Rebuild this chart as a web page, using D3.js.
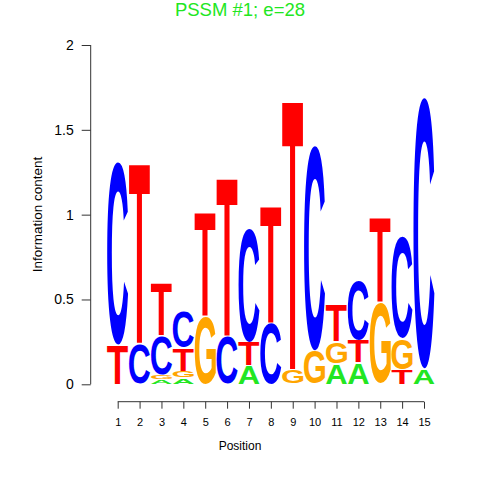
<!DOCTYPE html>
<html><head><meta charset="utf-8">
<script src="https://cdn.jsdelivr.net/npm/d3@7"></script>
<style>body{margin:0;background:#fff}</style>
</head><body>
<svg id="chart" width="480" height="480"></svg>
<script>
// Data: per-position letter heights (bits), bottom to top
const positions = [1,2,3,4,5,6,7,8,9,10,11,12,13,14,15];
const letters = ["A","C","G","T"];
const heightsA = [0,    0,    0.025,0.035,0,    0,    0.11, 0,    0,    0,    0.12, 0.125,0,    0,    0.09];
const heightsC = [1.08, 0.24, 0.23, 0.21, 0,    0.28, 0.67, 0.36, 0,    1.21, 0,    0.355,0,    0.60, 1.60];
const heightsG = [0,    0,    0.03, 0.04, 0.40, 0,    0,    0,    0.085,0.196,0.13, 0,    0.48, 0.18, 0];
const heightsT = [0.23, 1.07, 0.31, 0.135,0.62, 0.94, 0.14, 0.69, 1.60, 0,    0.22, 0.135,0.50, 0.085,0];
const yTicks = [0, 0.5, 1, 1.5, 2];
const title = "PSSM #1; e=28";
const colors = {A:"#22e622", C:"#0000ff", G:"#ffa500", T:"#ff0000"};

const svg = d3.select("#chart");
const x = d3.scaleLinear().domain([1,15]).range([117.7,424]);
const y = d3.scaleLinear().domain([0,2]).range([384.3,45]);
const step = x(2)-x(1);
const FONT = "bold 100px 'Liberation Sans', Arial, sans-serif";

// measure tight glyph bounds
const ctx = document.createElement("canvas").getContext("2d");
ctx.font = FONT;
const metrics = {};
letters.forEach(l => {
  const m = ctx.measureText(l);
  metrics[l] = {left:m.actualBoundingBoxLeft, right:m.actualBoundingBoxRight,
                asc:m.actualBoundingBoxAscent, desc:m.actualBoundingBoxDescent};
});

const table = {A:heightsA, C:heightsC, G:heightsG, T:heightsT};
const stacks = positions.map((p,i) => {
  const items = letters.map(l => ({l, h: table[l][i]})).filter(d => d.h > 0)
    .sort((a,b) => a.h - b.h);
  let acc = 0;
  return items.map(d => { const o = {pos:p, l:d.l, y0:acc, y1:acc+d.h}; acc += d.h; return o; });
}).flat();

const g = svg.append("g");
stacks.forEach(d => {
  const m = metrics[d.l];
  const x0 = x(d.pos) - step/2 + 0.4, w = step - 0.8;
  const yTop = y(d.y1), h = y(d.y0) - y(d.y1) - 0.8;
  const sx = w/(m.left+m.right), sy = h/(m.asc+m.desc);
  g.append("text")
    .attr("transform", `translate(${x0},${yTop}) scale(${sx},${sy})`)
    .attr("x", m.left).attr("y", m.asc)
    .style("font", FONT)
    .attr("fill", colors[d.l])
    .text(d.l);
});

// y axis
const yAxis = svg.append("g").attr("transform","translate(90.7,0)")
  .call(d3.axisLeft(y).tickValues(yTicks).tickSize(9).tickPadding(8).tickFormat(d3.format("")));
yAxis.select(".domain").attr("d", `M0,${y(0)}V${y(2)}`);
yAxis.selectAll("text").style("font","14px 'Liberation Sans', Arial, sans-serif").attr("fill","#000");
yAxis.selectAll("line,path").attr("stroke","#333");

// x axis
const xAxis = svg.append("g").attr("transform","translate(0,401.7)")
  .call(d3.axisBottom(x).tickValues(positions).tickSize(7).tickPadding(10).tickFormat(d3.format("d")));
xAxis.select(".domain").attr("d", `M${x(1)},0H${x(15)}`);
xAxis.selectAll("text").style("font","11px 'Liberation Sans', Arial, sans-serif").attr("fill","#000");
xAxis.selectAll("line,path").attr("stroke","#333");

svg.append("text").attr("x",240).attr("y",450).attr("text-anchor","middle")
  .style("font","12px 'Liberation Sans', Arial, sans-serif").text("Position");
svg.append("text").attr("transform","translate(41.5,214.5) rotate(-90)").attr("text-anchor","middle")
  .style("font","13.5px 'Liberation Sans', Arial, sans-serif").text("Information content");
svg.append("text").attr("x",240).attr("y",16).attr("text-anchor","middle")
  .style("font","18.5px 'Liberation Sans', Arial, sans-serif").attr("fill","#22e622").text(title);
</script>
</body></html>
